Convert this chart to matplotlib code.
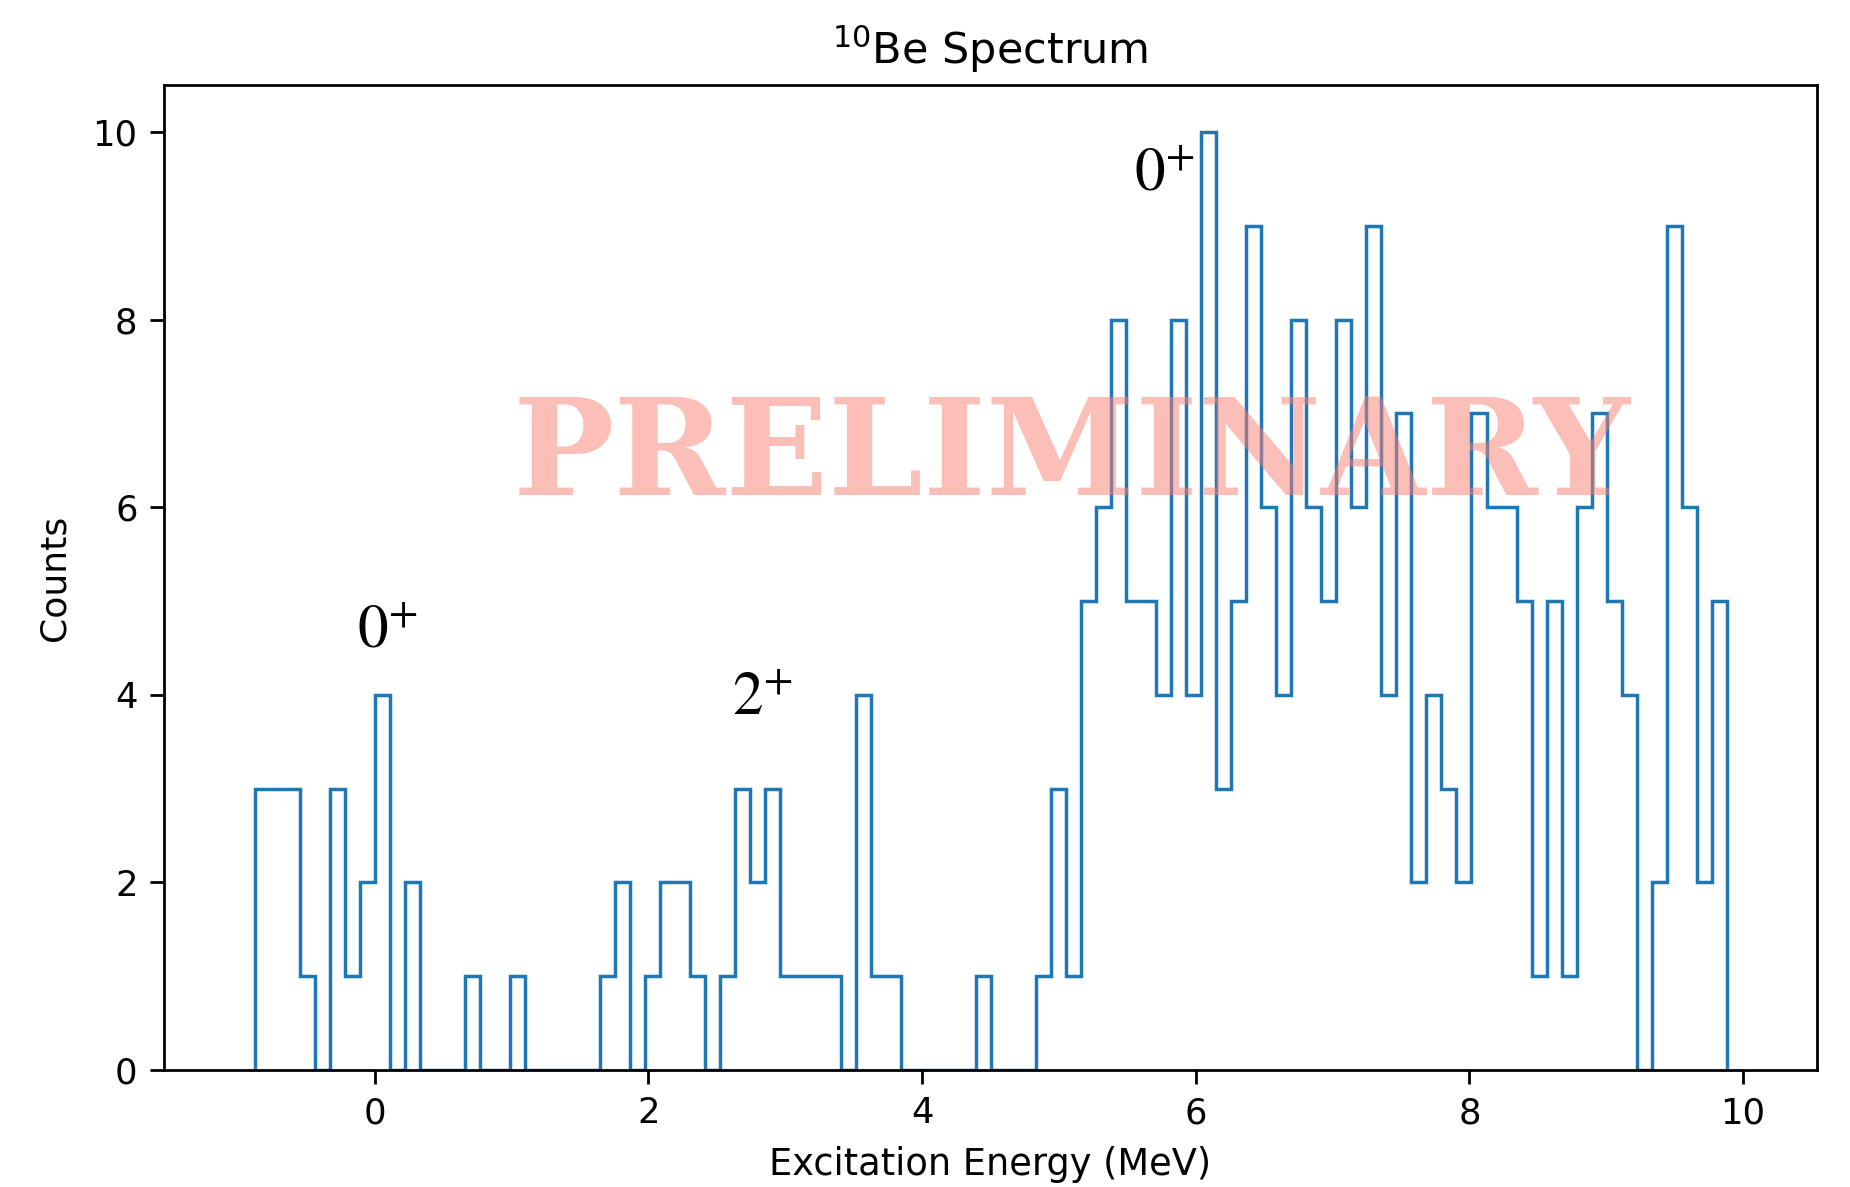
import numpy as np
import matplotlib.pyplot as plt

# Histogram of excitation energies: bin edges (MeV) and counts per bin
e_min, e_max, n_bins = -0.877, 9.881, 98
counts = [3, 3, 3, 1, 0, 3, 1, 2, 4, 0,
          2, 0, 0, 0, 1, 0, 0, 1, 0, 0,
          0, 0, 0, 1, 2, 0, 1, 2, 2, 1,
          0, 1, 3, 2, 3, 1, 1, 1, 1, 0,
          4, 1, 1, 0, 0, 0, 0, 0, 1, 0,
          0, 0, 1, 3, 1, 5, 6, 8, 5, 5,
          4, 8, 4, 10, 3, 5, 9, 6, 4, 8,
          6, 5, 8, 6, 9, 4, 7, 2, 4, 3,
          2, 7, 6, 6, 5, 1, 5, 1, 6, 7,
          5, 4, 0, 2, 9, 6, 2, 5]
edges = np.linspace(e_min, e_max, n_bins + 1)

# State labels
state_labels = [r"$0^{+}$", r"$2^{+}$", r"$0^{+}$"]
state_x = [-0.13, 2.61, 5.55]
state_y = [4.5, 3.78, 9.37]

fig = plt.figure(figsize=(18.5, 11.87), dpi=100)
ax = fig.add_axes([0.0886, 0.0986, 0.8936, 0.8298])

ax.stairs(counts, edges, color="#1f77b4", linewidth=2.5)

for lab, x, y in zip(state_labels, state_x, state_y):
    ax.text(x, y, lab, fontsize=44, color="black", math_fontfamily="stix")

# watermark
ax.text(5.09, 6.53, "PRELIMINARY", fontsize=97, fontweight="bold",
        family="DejaVu Serif", color="salmon", alpha=0.5,
        ha="center", va="center", zorder=10)

ax.set_xlim(-1.54, 10.54)
ax.set_ylim(0, 10.5)
ax.set_xticks([0, 2, 4, 6, 8, 10])
ax.set_yticks([0, 2, 4, 6, 8, 10])
ax.tick_params(labelsize=25.5, length=10, width=2, pad=9)
for s in ax.spines.values():
    s.set_linewidth(2)

ax.set_title(r"$^{10}$Be Spectrum", fontsize=31, pad=15)
ax.set_xlabel("Excitation Energy (MeV)", fontsize=26.5, labelpad=11)
ax.set_ylabel("Counts", fontsize=26, labelpad=15)

fig.savefig("out.png", dpi=100)
